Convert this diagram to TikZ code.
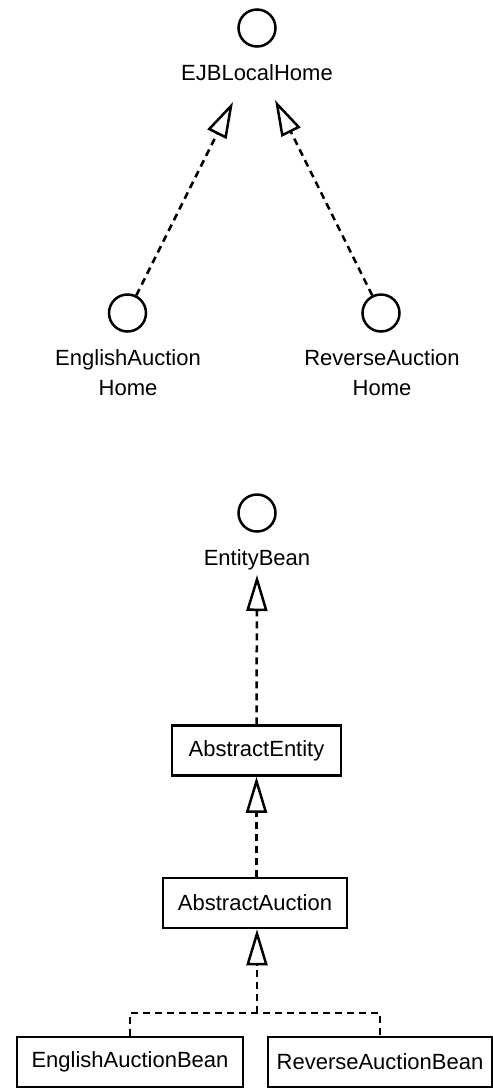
\documentclass[tikz,border=0pt]{standalone}
\usepackage{fontspec}
\setmainfont{Liberation Sans}
\usetikzlibrary{arrows.meta}
\begin{document}
\begin{tikzpicture}[x=1pt,y=-1pt,
  font=\fontsize{22pt}{30pt}\selectfont,
  iface/.style={circle,draw,line width=2.5pt,minimum size=37pt,inner sep=0pt},
  ifname/.style={anchor=base,align=center,inner sep=0pt},
  classbox/.style={draw,line width=2.5pt,minimum height=50pt,inner sep=0pt},
  realizes/.style={line width=2.5pt,dash pattern=on 7pt off 5pt,
    -{Triangle[open,length=36pt,width=21pt,line width=2.5pt]}},
  plainlink/.style={line width=2.5pt,dash pattern=on 7pt off 5pt}]
\useasboundingbox (0,0) rectangle (493,1088);

% home interfaces
\node[iface] (ejb) at (257,28) {};
\node[ifname] (ejbname) at (257,80) {EJBLocalHome};
\node[iface] (eah) at (127.5,313) {};
\node[ifname] (eahname) at (128,395) {EnglishAuction\\Home};
\node[iface] (rah) at (381,313) {};
\node[ifname] (rahname) at (382,395) {ReverseAuction\\Home};

\coordinate (ejbL) at (233,102);
\coordinate (ejbR) at (275,100);
\draw[realizes] (eah) -- (ejbL);
\draw[realizes] (rah) -- (ejbR);

% entity bean hierarchy
\node[iface] (eb) at (257,513) {};
\node[ifname] (ebname) at (257,565) {EntityBean};
\coordinate (ebtip) at (257,575);

\node[classbox,minimum width=169pt] (ae) at (256.5,750.5) {AbstractEntity};
\node[classbox,minimum width=184pt] (aa) at (255,903) {AbstractAuction};
\node[classbox,minimum width=226pt] (eab) at (130,1062) {EnglishAuctionBean};
\node[classbox,minimum width=224pt] (rab) at (380,1062) {ReverseAuctionBean};

\draw[realizes] (ae.north) -- (ebtip);
\draw[realizes] (aa.north -| ae.south) -- (ae.south);

\coordinate (jn) at (257,1013);
\draw[plainlink] (eab.north) |- (jn) -| (rab.north);
\draw[realizes] (jn) -- (jn |- aa.south);
\end{tikzpicture}
\end{document}
